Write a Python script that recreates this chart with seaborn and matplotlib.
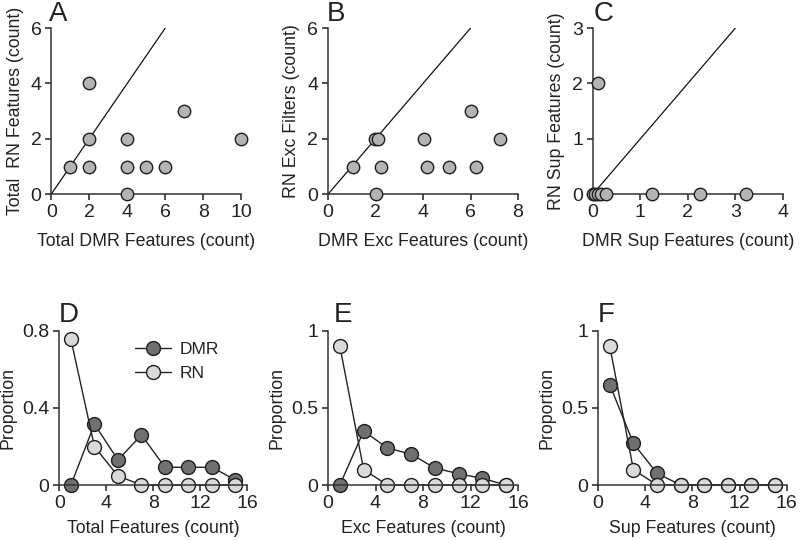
import matplotlib
matplotlib.use("Agg")
import matplotlib.pyplot as plt
import seaborn as sns

# ── scatter panels (A-C) ──────────────────────────────────────
a_dmr = [1, 2, 2, 2, 4, 4, 4, 5, 6, 7, 10]
a_rn = [1, 4, 2, 1, 2, 1, 0, 1, 1, 3, 2]

b_dmr = [1.05, 1.99, 2.09, 2.23, 2.0, 4.04, 4.17, 5.1, 6.03, 6.25, 7.23]
b_rn = [1, 2, 2, 1, 0, 2, 1, 1, 3, 1, 2]

c_dmr = [0.0, 0.05, 0.1, 0.18, 0.27, 0.11, 1.24, 2.25, 3.23]
c_rn = [0, 0, 0, 0, 0, 2, 0, 0, 0]

# ── distribution panels (D-F) ─────────────────────────────────
bins = [1, 3, 5, 7, 9, 11, 13, 15]
d_dmr = [0.0, 0.316, 0.13, 0.26, 0.092, 0.092, 0.092, 0.026]
d_rn = [0.755, 0.199, 0.047, 0, 0, 0, 0, 0]
e_dmr = [0.0, 0.35, 0.24, 0.20, 0.11, 0.073, 0.043, 0.0]
e_rn = [0.90, 0.10, 0, 0, 0, 0, 0, 0]
f_dmr = [0.65, 0.27, 0.076, 0, 0, 0, 0, 0]
f_rn = [0.90, 0.10, 0, 0, 0, 0, 0, 0]

d_yticks = [0, 0.4, 0.8]
d_ylabels = ["0", "0.4", "0.8"]
ef_yticks = [0, 0.5, 1]
ef_ylabels = ["0", "0.5", "1"]
bin_xticks = [0, 4, 8, 12, 16]

sns.set_style("ticks")
plt.rcParams["font.family"] = ["Liberation Sans", "DejaVu Sans"]
plt.rcParams["text.color"] = "#222222"
plt.rcParams["axes.labelcolor"] = "#222222"
plt.rcParams["xtick.color"] = "#222222"
plt.rcParams["ytick.color"] = "#222222"

TICK = 14
LAB = 12.8
FILL = "#b4b4b4"
DARK = "#707070"
LIGHT = "#dadada"
EDGE = "#1e1e1e"

fig = plt.figure(figsize=(8, 5.41), dpi=100)


def style_axis(ax, letter, lx=0.0, dy=0.0):
    sns.despine(ax=ax)
    for s in ("left", "bottom"):
        ax.spines[s].set_linewidth(1.1)
        ax.spines[s].set_color("#333333")
    ax.tick_params(direction="out", length=4, width=1.1, labelsize=TICK, pad=3)
    ax.xaxis.label.set_size(LAB)
    ax.yaxis.label.set_size(LAB)
    ax.text(lx, 1.0 + dy, letter, transform=ax.transAxes, fontsize=20,
            va="bottom", ha="left")


def scatter_panel(rect, x, y, lim_x, lim_y, xticks, yticks, xlabel, ylabel,
                  letter, lx=0.0):
    ax = fig.add_axes(rect)
    ax.plot([0, lim_y], [0, lim_y], color="#111111", lw=0.9, zorder=1)
    sns.scatterplot(x=x, y=y, ax=ax, s=80, color=FILL, edgecolor=EDGE,
                    linewidth=1.0, clip_on=False, zorder=3)
    ax.set_xlim(0, lim_x)
    ax.set_ylim(0, lim_y)
    ax.set_xticks(xticks)
    ax.set_yticks(yticks)
    ax.set_xlabel(xlabel, labelpad=9)
    ax.set_ylabel(ylabel, labelpad=5)
    style_axis(ax, letter, lx=lx, dy=0.005)
    return ax


def dist_panel(rect, dmr, rn, ylim, yticks, ylabels, xlabel, letter,
               lx=0.0, legend=False):
    ax = fig.add_axes(rect)
    sns.lineplot(x=bins, y=dmr, ax=ax, color="#222222", lw=1.0, marker="o",
                 markersize=10, markerfacecolor=DARK, markeredgecolor=EDGE,
                 markeredgewidth=1.0, clip_on=False, label="DMR", legend=False)
    sns.lineplot(x=bins, y=rn, ax=ax, color="#222222", lw=1.0, marker="o",
                 markersize=10, markerfacecolor=LIGHT, markeredgecolor=EDGE,
                 markeredgewidth=1.0, clip_on=False, label="RN", legend=False)
    ax.set_xlim(0, 16)
    ax.set_ylim(0, ylim)
    ax.set_xticks(bin_xticks)
    ax.set_yticks(yticks, labels=ylabels)
    ax.set_xlabel(xlabel, labelpad=6)
    ax.set_ylabel("Proportion", labelpad=4)
    style_axis(ax, letter, lx=lx, dy=0.02)
    if legend:
        ax.legend(loc="upper left", bbox_to_anchor=(0.32, 1.03), frameon=False,
                  fontsize=12.5, handlelength=2.1, handletextpad=0.5,
                  labelspacing=0.5)
    return ax


top_b, top_h = 0.641, 0.307
bot_b, bot_h = 0.1035, 0.285

scatter_panel([0.064, top_b, 0.2375, top_h], a_dmr, a_rn, 10, 6,
              [0, 2, 4, 6, 8, 10], [0, 2, 4, 6],
              "Total DMR Features (count)", "Total  RN Features (count)", "A",
              lx=-0.01)
scatter_panel([0.41, top_b, 0.2375, top_h], b_dmr, b_rn, 8, 6,
              [0, 2, 4, 6, 8], [0, 2, 4, 6],
              "DMR Exc Features (count)", "RN Exc Filters (count)", "B",
              lx=-0.005)
scatter_panel([0.741, top_b, 0.2375, top_h], c_dmr, c_rn, 4, 3,
              [0, 1, 2, 3, 4], [0, 1, 2, 3],
              "DMR Sup Features (count)", "RN Sup Features (count)", "C",
              lx=0.005)

dist_panel([0.074, bot_b, 0.235, bot_h], d_dmr, d_rn, 0.8, d_yticks, d_ylabels,
           "Total Features (count)", "D", lx=0.0, legend=True)
dist_panel([0.41, bot_b, 0.2375, bot_h], e_dmr, e_rn, 1, ef_yticks, ef_ylabels,
           "Exc Features (count)", "E", lx=0.03)
dist_panel([0.7475, bot_b, 0.236, bot_h], f_dmr, f_rn, 1, ef_yticks, ef_ylabels,
           "Sup Features (count)", "F", lx=0.0)

fig.savefig("out.png", dpi=100)
